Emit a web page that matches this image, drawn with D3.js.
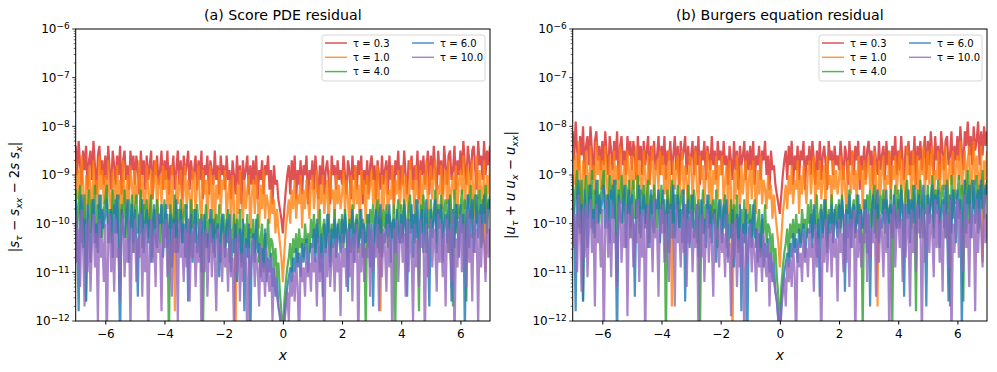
<!DOCTYPE html>
<html><head><meta charset="utf-8">
<script src="https://cdn.jsdelivr.net/npm/d3@7"></script>
<style>
body{margin:0;background:#fff;}
svg{display:block;font-family:"DejaVu Sans",sans-serif;}
</style></head>
<body><svg id="c" width="997" height="372"></svg>
<script>
// sample spacing of the residual curves along x (from -7 to 7)
const xStart = -7, xStep = 0.05;
const taus = ["0.3", "1.0", "4.0", "6.0", "10.0"];
const colors = ["#d62728", "#ff7f0e", "#2ca02c", "#1f77b4", "#9467bd"];
const yTickExps = [-6, -7, -8, -9, -10, -11, -12];
const xTicks = [-6, -4, -2, 0, 2, 4, 6];

// residual values, stored as 10*log10(residual); one line per unit of x
// (a) Score PDE residual
const scoreTau03 = [
-84,-90,-83,-88,-92,-85,-89,-84,-93,-87,-85,-91,-83,-88,-94,-86,-84,-90,-87,-92,
-86,-91,-84,-89,-93,-85,-88,-92,-86,-90,-84,-94,-87,-85,-91,-88,-93,-85,-89,-86,
-92,-86,-89,-94,-85,-90,-87,-93,-86,-91,-88,-85,-95,-87,-90,-86,-92,-89,-85,-93,
-87,-91,-85,-94,-88,-90,-86,-93,-89,-85,-92,-87,-95,-86,-90,-88,-85,-93,-87,-91,
-89,-86,-93,-87,-91,-85,-95,-88,-90,-86,-94,-87,-89,-92,-85,-91,-88,-94,-86,-90,
-88,-93,-86,-91,-89,-95,-87,-90,-94,-86,-92,-88,-96,-87,-91,-89,-86,-94,-88,-92,
-87,-92,-86,-95,-89,-91,-87,-94,-88,-90,-86,-93,-89,-96,-88,-92,-91,-95,-97,-99,
-102,-97,-93,-90,-88,-94,-87,-91,-86,-95,-89,-92,-87,-94,-88,-90,-86,-96,-89,-91,
-87,-93,-86,-90,-95,-88,-92,-86,-94,-89,-87,-91,-96,-86,-90,-88,-93,-87,-91,-89,
-92,-86,-90,-94,-87,-89,-95,-86,-91,-88,-93,-87,-90,-86,-96,-89,-92,-87,-94,-88,
-86,-91,-88,-95,-87,-90,-93,-86,-92,-89,-87,-94,-86,-91,-88,-96,-87,-90,-85,-93,
-88,-92,-85,-90,-94,-87,-89,-86,-93,-88,-91,-85,-95,-87,-90,-86,-92,-89,-85,-94,
-86,-91,-84,-89,-93,-85,-90,-87,-94,-84,-88,-92,-86,-85,-91,-89,-84,-93,-87,-90,
-85,-90,-83,-88,-92,-84,-87,-91,-85,-84,-89,-93,-83,-88,-86,-91,-83,-90,-85,-88,
-84];
const scoreTau10 = [
-87,-95,-89,-98,-86,-92,-105,-90,-96,-88,-93,-99,-87,-94,-91,-97,-86,-93,-89,-96,
-90,-97,-87,-94,-99,-89,-92,-96,-88,-95,-91,-100,-87,-93,-98,-90,-95,-88,-92,-97,
-89,-96,-92,-87,-99,-90,-94,-97,-88,-93,-101,-89,-95,-91,-87,-98,-92,-90,-96,-88,
-93,-89,-97,-91,-100,-88,-95,-118,-90,-96,-92,-89,-99,-93,-88,-97,-91,-94,-101,-89,
-90,-98,-92,-88,-96,-100,-89,-94,-91,-99,-93,-88,-97,-90,-102,-92,-95,-89,-98,-91,
-93,-89,-99,-94,-91,-101,-90,-96,-125,-92,-98,-89,-95,-100,-91,-97,-93,-90,-102,-94,
-91,-98,-90,-95,-101,-92,-97,-89,-99,-94,-96,-100,-93,-98,-95,-102,-97,-101,-104,-107,
-112,-106,-101,-98,-95,-100,-93,-97,-91,-99,-94,-96,-90,-101,-93,-97,-91,-95,-99,-92,
-90,-97,-93,-89,-100,-92,-96,-90,-98,-94,-91,-102,-89,-95,-93,-99,-90,-96,-92,-97,
-94,-89,-98,-91,-95,-101,-90,-93,-97,-88,-96,-92,-99,-89,-94,-91,-100,-90,-95,-92,
-89,-96,-91,-99,-88,-94,-118,-90,-97,-92,-89,-100,-93,-95,-88,-98,-91,-94,-89,-97,
-92,-88,-97,-90,-95,-99,-87,-93,-91,-98,-88,-94,-96,-89,-101,-90,-93,-87,-97,-91,
-88,-95,-90,-87,-99,-92,-94,-88,-97,-91,-89,-96,-87,-100,-93,-90,-95,-88,-98,-91,
-89,-94,-86,-97,-91,-88,-96,-90,-87,-99,-92,-86,-95,-89,-93,-97,-87,-110,-90,-94,
-88];
const scoreTau40 = [
-93,-101,-96,-92,-104,-97,-94,-116,-99,-93,-102,-95,-98,-92,-105,-96,-100,-94,-103,-97,
-95,-92,-100,-97,-104,-93,-98,-95,-102,-94,-112,-96,-99,-93,-103,-97,-95,-101,-94,-106,
-97,-94,-102,-99,-93,-105,-96,-100,-95,-103,-98,-94,-107,-97,-101,-95,-99,-104,-96,-100,
-95,-103,-98,-125,-96,-101,-99,-94,-106,-97,-100,-95,-104,-98,-96,-102,-99,-107,-95,-101,
-97,-104,-96,-100,-107,-98,-123,-102,-96,-105,-99,-101,-97,-106,-100,-98,-103,-96,-108,-99,
-98,-105,-100,-97,-108,-101,-103,-98,-106,-99,-104,-97,-109,-102,-100,-105,-98,-107,-101,-103,
-99,-106,-101,-98,-108,-103,-100,-110,-102,-105,-99,-107,-103,-104,-109,-105,-111,-108,-114,-118,
-124,-116,-112,-109,-107,-104,-110,-103,-106,-102,-108,-101,-105,-103,-107,-100,-104,-102,-106,-99,
-103,-98,-106,-100,-104,-97,-107,-101,-99,-105,-102,-98,-108,-100,-103,-97,-106,-101,-99,-104,
-98,-105,-97,-102,-107,-99,-101,-96,-104,-100,-98,-106,-97,-103,-99,-101,-122,-98,-105,-97,
-100,-96,-104,-98,-95,-106,-99,-102,-97,-101,-96,-105,-98,-100,-103,-96,-121,-99,-95,-104,
-96,-103,-95,-99,-105,-97,-94,-101,-98,-104,-95,-100,-118,-96,-102,-94,-99,-106,-97,-101,
-95,-101,-98,-93,-104,-96,-99,-94,-103,-97,-95,-100,-106,-94,-98,-117,-93,-102,-96,-99,
-97,-93,-101,-95,-116,-94,-99,-92,-103,-96,-94,-100,-97,-93,-105,-95,-98,-92,-102,-96,
-94];
const scoreTau60 = [
-95,-103,-118,-97,-94,-105,-99,-116,-96,-102,-108,-98,-95,-104,-100,-106,-94,-103,-97,-101,
-98,-95,-104,-100,-97,-107,-96,-102,-94,-105,-125,-97,-101,-103,-99,-95,-108,-100,-96,-104,
-97,-103,-115,-98,-102,-95,-106,-100,-97,-104,-99,-108,-101,-96,-103,-105,-98,-100,-96,-107,
-100,-96,-105,-101,-98,-109,-99,-103,-95,-106,-102,-97,-104,-100,-107,-96,-116,-101,-98,-108,
-101,-97,-106,-103,-99,-110,-100,-98,-105,-102,-108,-97,-104,-99,-107,-101,-100,-111,-103,-98,
-102,-107,-99,-104,-98,-110,-103,-106,-100,-112,-105,-101,-108,-99,-118,-103,-107,-100,-125,-104,
-102,-108,-99,-106,-104,-111,-105,-109,-101,-112,-107,-110,-106,-113,-109,-115,-111,-117,-119,-122,
-126,-120,-116,-113,-111,-109,-112,-107,-110,-105,-109,-106,-111,-104,-108,-105,-103,-110,-106,-104,
-105,-101,-108,-99,-104,-110,-102,-115,-100,-106,-98,-103,-109,-101,-105,-99,-107,-100,-103,-106,
-99,-104,-98,-102,-114,-100,-106,-97,-108,-101,-99,-105,-103,-97,-107,-100,-104,-102,-98,-109,
-100,-117,-101,-97,-105,-99,-96,-107,-102,-104,-98,-103,-96,-108,-100,-99,-106,-97,-102,-104,
-98,-104,-96,-101,-115,-99,-102,-96,-107,-98,-103,-95,-105,-100,-97,-106,-99,-95,-104,-117,
-97,-103,-99,-95,-106,-97,-101,-96,-108,-100,-98,-104,-95,-102,-116,-97,-105,-96,-100,-107,
-96,-102,-98,-123,-100,-94,-105,-97,-95,-106,-101,-94,-103,-98,-96,-104,-94,-100,-99,-95,
-97];
const scoreTau100 = [
-98,-108,-101,-113,-97,-105,-117,-100,-110,-99,-114,-104,-98,-109,-102,-120,-99,-107,-103,-112,
-100,-125,-104,-98,-110,-102,-114,-99,-107,-105,-116,-100,-98,-111,-103,-108,-99,-122,-101,-106,
-99,-112,-103,-107,-98,-115,-101,-110,-100,-125,-104,-99,-108,-102,-113,-98,-106,-104,-118,-100,
-105,-99,-111,-101,-108,-115,-100,-106,-103,-120,-99,-107,-104,-112,-101,-109,-99,-116,-102,-107,
-100,-113,-104,-108,-99,-125,-102,-110,-101,-115,-105,-100,-111,-103,-107,-118,-101,-106,-104,-112,
-102,-109,-105,-114,-101,-111,-107,-122,-103,-110,-102,-116,-106,-112,-104,-108,-125,-105,-111,-107,
-103,-113,-106,-109,-117,-104,-112,-108,-115,-105,-111,-114,-107,-120,-109,-113,-115,-117,-119,-123,
-126,-121,-117,-114,-120,-111,-115,-110,-116,-108,-113,-125,-107,-112,-109,-115,-105,-111,-108,-114,
-104,-110,-107,-117,-103,-112,-106,-109,-125,-105,-111,-102,-113,-107,-104,-114,-103,-110,-106,-119,
-102,-109,-105,-113,-101,-111,-103,-116,-102,-108,-100,-125,-104,-110,-101,-112,-105,-107,-100,-115,
-101,-110,-104,-107,-100,-118,-102,-111,-101,-105,-114,-100,-109,-103,-125,-101,-106,-99,-112,-103,
-100,-108,-102,-115,-99,-110,-101,-106,-120,-100,-109,-103,-113,-99,-105,-102,-125,-100,-111,-104,
-99,-109,-101,-105,-114,-98,-108,-100,-111,-102,-117,-99,-106,-101,-112,-98,-125,-103,-109,-100,
-98,-110,-100,-105,-113,-97,-108,-102,-116,-99,-106,-101,-121,-98,-109,-100,-104,-112,-97,-107,
-101];
// (b) Burgers equation residual
const burgTau03 = [
-81,-87,-79,-85,-89,-82,-86,-80,-90,-84,-82,-88,-80,-85,-91,-83,-81,-87,-84,-89,
-83,-88,-81,-86,-90,-82,-85,-89,-83,-87,-81,-91,-84,-82,-88,-85,-90,-82,-86,-83,
-89,-83,-86,-91,-82,-87,-84,-90,-83,-88,-85,-82,-92,-84,-87,-83,-89,-86,-82,-90,
-84,-88,-82,-91,-85,-87,-83,-90,-86,-82,-89,-84,-92,-83,-87,-85,-82,-90,-84,-88,
-86,-83,-90,-84,-88,-82,-92,-85,-87,-83,-91,-84,-86,-89,-82,-88,-85,-91,-83,-87,
-85,-90,-83,-88,-86,-92,-84,-87,-91,-83,-89,-85,-93,-84,-88,-86,-83,-91,-85,-89,
-84,-89,-83,-92,-86,-88,-84,-91,-85,-87,-83,-90,-86,-93,-85,-89,-88,-92,-94,-96,
-98,-94,-90,-87,-85,-91,-84,-88,-83,-92,-86,-89,-84,-91,-85,-87,-83,-93,-86,-88,
-84,-90,-83,-87,-92,-85,-89,-83,-91,-86,-84,-88,-93,-83,-87,-85,-90,-84,-88,-86,
-89,-83,-87,-91,-84,-86,-92,-83,-88,-85,-90,-84,-87,-83,-93,-86,-89,-84,-91,-85,
-83,-88,-85,-92,-84,-87,-90,-83,-89,-86,-84,-91,-83,-88,-85,-93,-84,-87,-82,-90,
-85,-89,-82,-87,-91,-84,-86,-83,-90,-85,-88,-82,-92,-84,-87,-83,-89,-86,-82,-91,
-83,-88,-81,-86,-90,-82,-87,-84,-91,-81,-85,-89,-83,-82,-88,-86,-81,-90,-84,-87,
-82,-87,-80,-85,-89,-81,-84,-79,-86,-82,-88,-80,-85,-83,-79,-88,-81,-86,-80,-84,
-81];
const burgTau10 = [
-84,-92,-86,-95,-83,-89,-104,-87,-93,-85,-90,-96,-84,-91,-88,-94,-83,-90,-86,-93,
-87,-94,-84,-91,-96,-86,-89,-93,-85,-92,-88,-97,-84,-90,-95,-87,-92,-85,-89,-94,
-86,-93,-89,-84,-96,-87,-91,-94,-85,-90,-98,-86,-92,-88,-84,-95,-89,-87,-93,-85,
-90,-86,-94,-88,-97,-85,-92,-117,-87,-93,-89,-86,-96,-90,-85,-94,-88,-91,-98,-86,
-87,-95,-89,-85,-93,-97,-86,-91,-88,-96,-90,-85,-94,-87,-99,-89,-92,-86,-95,-88,
-90,-86,-96,-91,-88,-98,-87,-93,-125,-89,-95,-86,-92,-97,-88,-94,-90,-87,-99,-91,
-88,-95,-87,-92,-98,-89,-94,-86,-96,-91,-93,-97,-90,-95,-92,-99,-94,-98,-101,-104,
-109,-103,-98,-95,-92,-97,-90,-94,-88,-96,-91,-93,-87,-98,-90,-94,-88,-92,-96,-89,
-87,-94,-90,-86,-97,-89,-93,-87,-95,-91,-88,-99,-86,-92,-90,-96,-87,-93,-89,-94,
-91,-86,-95,-88,-92,-98,-87,-90,-94,-85,-93,-89,-96,-86,-91,-88,-97,-87,-92,-89,
-86,-93,-88,-96,-85,-91,-117,-87,-94,-89,-86,-97,-90,-92,-85,-95,-88,-91,-86,-94,
-89,-85,-94,-87,-92,-96,-84,-90,-88,-95,-85,-91,-93,-86,-98,-87,-90,-84,-94,-88,
-85,-92,-87,-84,-96,-89,-91,-85,-94,-88,-86,-93,-84,-97,-90,-87,-92,-85,-95,-88,
-86,-91,-83,-94,-88,-85,-93,-87,-84,-96,-89,-83,-92,-86,-90,-94,-84,-108,-87,-91,
-85];
const burgTau40 = [
-90,-98,-93,-89,-101,-94,-91,-116,-96,-90,-99,-92,-95,-89,-102,-93,-97,-91,-100,-94,
-92,-89,-97,-94,-101,-90,-95,-92,-99,-91,-112,-93,-96,-90,-100,-94,-92,-98,-91,-103,
-94,-91,-99,-96,-90,-102,-93,-97,-92,-100,-95,-91,-104,-94,-98,-92,-96,-101,-93,-97,
-92,-100,-95,-125,-93,-98,-96,-91,-103,-94,-97,-92,-101,-95,-93,-99,-96,-104,-92,-98,
-94,-101,-93,-97,-104,-95,-123,-99,-93,-102,-96,-98,-94,-103,-97,-95,-100,-93,-105,-96,
-95,-102,-97,-94,-105,-98,-100,-95,-103,-96,-101,-94,-106,-99,-97,-102,-95,-104,-98,-100,
-96,-103,-98,-95,-105,-100,-97,-107,-99,-102,-96,-104,-100,-101,-106,-102,-108,-105,-111,-115,
-122,-113,-109,-106,-104,-101,-107,-100,-103,-99,-105,-98,-102,-100,-104,-97,-101,-99,-103,-96,
-100,-95,-103,-97,-101,-94,-104,-98,-96,-102,-99,-95,-105,-97,-100,-94,-103,-98,-96,-101,
-95,-102,-94,-99,-104,-96,-98,-93,-101,-97,-95,-103,-94,-100,-96,-98,-122,-95,-102,-94,
-97,-93,-101,-95,-92,-103,-96,-99,-94,-98,-93,-102,-95,-97,-100,-93,-121,-96,-92,-101,
-93,-100,-92,-96,-102,-94,-91,-98,-95,-101,-92,-97,-118,-93,-99,-91,-96,-103,-94,-98,
-92,-98,-95,-90,-101,-93,-96,-91,-100,-94,-92,-97,-103,-91,-95,-117,-90,-99,-93,-96,
-94,-90,-98,-92,-116,-91,-96,-89,-100,-93,-91,-97,-94,-90,-102,-92,-95,-89,-99,-93,
-91];
const burgTau60 = [
-92,-100,-118,-94,-91,-102,-96,-116,-93,-99,-105,-95,-92,-101,-97,-103,-91,-100,-94,-98,
-95,-92,-101,-97,-94,-104,-93,-99,-91,-102,-125,-94,-98,-100,-96,-92,-105,-97,-93,-101,
-94,-100,-115,-95,-99,-92,-103,-97,-94,-101,-96,-105,-98,-93,-100,-102,-95,-97,-93,-104,
-97,-93,-102,-98,-95,-106,-96,-100,-92,-103,-99,-94,-101,-97,-104,-93,-116,-98,-95,-105,
-98,-94,-103,-100,-96,-107,-97,-95,-102,-99,-105,-94,-101,-96,-104,-98,-97,-108,-100,-95,
-99,-104,-96,-101,-95,-107,-100,-103,-97,-109,-102,-98,-105,-96,-118,-100,-104,-97,-125,-101,
-99,-105,-96,-103,-101,-108,-102,-106,-98,-109,-104,-107,-103,-110,-106,-112,-108,-114,-116,-120,
-125,-117,-113,-110,-108,-106,-109,-104,-107,-102,-106,-103,-108,-101,-105,-102,-100,-107,-103,-101,
-102,-98,-105,-96,-101,-107,-99,-115,-97,-103,-95,-100,-106,-98,-102,-96,-104,-97,-100,-103,
-96,-101,-95,-99,-114,-97,-103,-94,-105,-98,-96,-102,-100,-94,-104,-97,-101,-99,-95,-106,
-97,-117,-98,-94,-102,-96,-93,-104,-99,-101,-95,-100,-93,-105,-97,-96,-103,-94,-99,-101,
-95,-101,-93,-98,-115,-96,-99,-93,-104,-95,-100,-92,-102,-97,-94,-103,-96,-92,-101,-117,
-94,-100,-96,-92,-103,-94,-98,-93,-105,-97,-95,-101,-92,-99,-116,-94,-102,-93,-97,-104,
-93,-99,-95,-123,-97,-91,-102,-94,-92,-103,-98,-91,-100,-95,-93,-101,-91,-97,-96,-92,
-94];
const burgTau100 = [
-95,-105,-98,-110,-94,-102,-114,-97,-107,-96,-111,-101,-95,-106,-99,-117,-96,-104,-100,-109,
-97,-125,-101,-95,-107,-99,-111,-96,-104,-102,-113,-97,-95,-108,-100,-105,-96,-119,-98,-103,
-96,-109,-100,-104,-95,-112,-98,-107,-97,-125,-101,-96,-105,-99,-110,-95,-103,-101,-115,-97,
-102,-96,-108,-98,-105,-112,-97,-103,-100,-117,-96,-104,-101,-109,-98,-106,-96,-113,-99,-104,
-97,-110,-101,-105,-96,-125,-99,-107,-98,-112,-102,-97,-108,-100,-104,-115,-98,-103,-101,-109,
-99,-106,-102,-111,-98,-108,-104,-119,-100,-107,-99,-113,-103,-109,-101,-105,-125,-102,-108,-104,
-100,-110,-103,-106,-114,-101,-109,-105,-112,-102,-108,-111,-104,-117,-106,-110,-112,-114,-116,-120,
-125,-118,-114,-111,-117,-108,-112,-107,-113,-105,-110,-125,-104,-109,-106,-112,-102,-108,-105,-111,
-101,-107,-104,-114,-100,-109,-103,-106,-125,-102,-108,-99,-110,-104,-101,-111,-100,-107,-103,-116,
-99,-106,-102,-110,-98,-108,-100,-113,-99,-105,-97,-125,-101,-107,-98,-109,-102,-104,-97,-112,
-98,-107,-101,-104,-97,-115,-99,-108,-98,-102,-111,-97,-106,-100,-125,-98,-103,-96,-109,-100,
-97,-105,-99,-112,-96,-107,-98,-103,-117,-97,-106,-100,-110,-96,-102,-99,-125,-97,-108,-101,
-96,-106,-98,-102,-111,-95,-105,-97,-108,-99,-114,-96,-103,-98,-109,-95,-125,-100,-106,-97,
-95,-107,-97,-102,-110,-94,-105,-99,-113,-96,-103,-98,-118,-95,-106,-97,-101,-109,-94,-104,
-98];

const panels = [
  {title: "(a) Score PDE residual", left: 75.7, series: [scoreTau03, scoreTau10, scoreTau40, scoreTau60, scoreTau100], label: "score", labelY: 197, labelX: 19},
  {title: "(b) Burgers equation residual", left: 572.7, series: [burgTau03, burgTau10, burgTau40, burgTau60, burgTau100], label: "burgers", labelY: 185, labelX: 515}
];

const svg = d3.select("#c");
const plotW = 414.3, plotTop = 29, plotH = 292;

panels.forEach((p, pi) => {
  const g = svg.append("g").attr("transform", `translate(${p.left},${plotTop})`);
  const x = d3.scaleLinear().domain([-7, 7]).range([0, plotW]);
  const y = d3.scaleLog().domain([1e-12, 1e-6]).range([plotH, 0]);
  const clipId = "clip" + pi;
  svg.append("clipPath").attr("id", clipId).append("rect").attr("width", plotW).attr("height", plotH);

  const lines = g.append("g").attr("clip-path", `url(#${clipId})`);
  const line = d3.line().x((d, i) => x(xStart + i * xStep)).y(d => y(Math.pow(10, d / 10)));
  p.series.forEach((s, si) => {
    lines.append("path").datum(s).attr("d", line)
      .attr("fill", "none").attr("stroke", colors[si])
      .attr("stroke-opacity", 0.8).attr("stroke-width", 2.2)
      .attr("stroke-linejoin", "bevel");
  });

  // frame
  g.append("rect").attr("width", plotW).attr("height", plotH).attr("fill", "none").attr("stroke", "#000").attr("stroke-width", 1);

  // x axis
  const xa = g.append("g").attr("transform", `translate(0,${plotH})`)
    .call(d3.axisBottom(x).tickValues(xTicks).tickSize(3.5).tickPadding(3).tickFormat(d => d < 0 ? "\u2212" + (-d) : d));
  xa.select(".domain").remove();
  xa.selectAll("text").attr("font-size", 12).attr("font-family", "DejaVu Sans").attr("fill", "#000").attr("dy", "0.85em");

  // y axis: major ticks
  const ya = g.append("g");
  yTickExps.forEach(e => {
    const yy = y(Math.pow(10, e));
    ya.append("line").attr("x1", -3.5).attr("x2", 0).attr("y1", yy).attr("y2", yy).attr("stroke", "#000").attr("stroke-width", 0.8);
    const t = ya.append("text").attr("x", -6).attr("y", yy).attr("dy", "0.36em").attr("text-anchor", "end")
      .attr("font-size", 12).attr("fill", "#000");
    t.append("tspan").text("10");
    t.append("tspan").attr("dy", "-0.45em").attr("font-size", 9).text("\u2212" + (-e));
  });
  // minor ticks
  for (let e = -12; e < -6; e++) {
    for (let m = 2; m <= 9; m++) {
      const yy = y(m * Math.pow(10, e));
      ya.append("line").attr("x1", -2).attr("x2", 0).attr("y1", yy).attr("y2", yy).attr("stroke", "#000").attr("stroke-width", 0.6);
    }
  }

  // title
  svg.append("text").attr("x", p.left + plotW / 2).attr("y", 20).attr("text-anchor", "middle")
    .attr("font-size", 14.2).attr("fill", "#000").text(p.title);

  // x label
  svg.append("text").attr("x", p.left + plotW / 2).attr("y", 360).attr("text-anchor", "middle")
    .attr("font-size", 14).attr("font-style", "italic").attr("fill", "#000").text("x");

  // y label (math)
  const yl = svg.append("text").attr("transform", `translate(${p.labelX},${p.labelY}) rotate(-90)`)
    .attr("text-anchor", "middle").attr("dy", "0.35em").attr("font-size", 13.2).attr("fill", "#000");
  const parts = p.label === "score"
    ? [["|", 0, 0], ["s", 1, 0], ["\u03c4", 1, 1], [" \u2212 ", 0, 0], ["s", 1, 0], ["xx", 1, 1], [" \u2212 2", 0, 0], ["s", 1, 0], [" s", 1, 0], ["x", 1, 1], ["|", 0, 0]]
    : [["|", 0, 0], ["u", 1, 0], ["\u03c4", 1, 1], [" + ", 0, 0], ["u", 1, 0], [" u", 1, 0], ["x", 1, 1], [" \u2212 ", 0, 0], ["u", 1, 0], ["xx", 1, 1], ["|", 0, 0]];
  let sub = false;
  parts.forEach(([txt, it, sb]) => {
    const ts = yl.append("tspan").text(txt).attr("font-style", it ? "italic" : "normal");
    if (sb) { ts.attr("font-size", 9.5).attr("dy", sub ? 0 : "0.3em"); sub = true; }
    else { ts.attr("dy", sub ? "-0.21em" : 0); sub = false; }
  });

  // legend
  const lg = g.append("g").attr("transform", `translate(${plotW - 168},6)`);
  lg.append("rect").attr("width", 163).attr("height", 46).attr("rx", 2.5)
    .attr("fill", "#fff").attr("fill-opacity", 0.8).attr("stroke", "#ccc").attr("stroke-width", 0.8);
  taus.forEach((t, i) => {
    const col = i < 3 ? 0 : 1, row = i < 3 ? i : i - 3;
    const lx = 3 + col * 87, ly = 8 + row * 14.3;
    lg.append("line").attr("x1", lx).attr("x2", lx + 22).attr("y1", ly).attr("y2", ly)
      .attr("stroke", colors[i]).attr("stroke-opacity", 0.8).attr("stroke-width", 1.5);
    lg.append("text").attr("x", lx + 28).attr("y", ly).attr("dy", "0.35em").attr("font-size", 10)
      .attr("fill", "#000").text("\u03c4 = " + t);
  });
});
</script></body></html>
